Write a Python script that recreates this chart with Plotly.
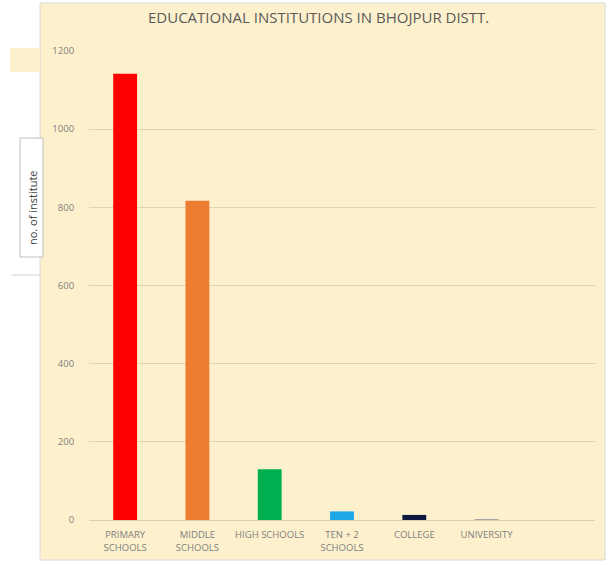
import plotly.graph_objects as go

categories = ["PRIMARY<br>SCHOOLS", "MIDDLE<br>SCHOOLS", "HIGH SCHOOLS", "TEN + 2<br>SCHOOLS", "COLLEGE", "UNIVERSITY"]
values = [1142, 817, 130, 22, 13, 2]
colors = ["#FF0000", "#ED7D31", "#00B050", "#1CA7E8", "#0B1A3E", "#A5A5A5"]
y_ticks = [0, 200, 400, 600, 800, 1000, 1200]

W, H = 615, 565
L, R, T, B = 89, 20, 51, 45
pw, ph = W - L - R, H - T - B

def px(x):
    return (x - L) / pw

def py(y):
    return 1 - (y - T) / ph

cream = "#FDF1CD"
font = "Open Sans"

fig = go.Figure(go.Bar(x=categories, y=values, marker=dict(color=colors, line=dict(width=0)), width=0.33))

fig.update_layout(
    width=W, height=H,
    margin=dict(l=L, r=R, t=T, b=B, autoexpand=False),
    paper_bgcolor="white",
    plot_bgcolor="rgba(0,0,0,0)",
    showlegend=False,
    font=dict(family=font, color="#7F7F7F", size=9),
    xaxis=dict(range=[-0.5, 6.5], showgrid=False, showline=True, linecolor="#D9CFB4",
               tickfont=dict(size=9.5, color="#7F7F7F"), ticks="outside", ticklen=6,
               tickcolor="rgba(0,0,0,0)", fixedrange=True, automargin=False),
    yaxis=dict(range=[0, 1200], tickvals=y_ticks, showgrid=True, gridcolor="#DCD3B8",
               zeroline=False, showline=False, tickfont=dict(size=9.5, color="#7F7F7F"),
               ticks="outside", ticklen=12, tickcolor="rgba(0,0,0,0)", automargin=False,
               fixedrange=True),
    shapes=[
        dict(type="rect", xref="paper", yref="paper", x0=px(40), x1=px(605), y0=py(560), y1=py(3),
             fillcolor=cream, line=dict(color="#D8D8D8", width=1), layer="below"),
        dict(type="rect", xref="paper", yref="paper", x0=px(10), x1=px(40), y0=py(72), y1=py(48),
             fillcolor=cream, line=dict(width=0), layer="below"),
        dict(type="rect", xref="paper", yref="paper", x0=px(20), x1=px(43), y0=py(257), y1=py(138),
             fillcolor="white", line=dict(color="#BFBFBF", width=1), layer="above"),
        dict(type="line", xref="paper", yref="paper", x0=px(12), x1=px(40), y0=py(275), y1=py(275),
             line=dict(color="#D0D0D0", width=1)),
    ],
    annotations=[
        dict(text="EDUCATIONAL INSTITUTIONS IN BHOJPUR DISTT.", xref="paper", yref="paper",
             x=px(318), y=py(17), xanchor="center", yanchor="middle", showarrow=False,
             font=dict(size=15, color="#595959", family=font)),
        dict(text="no. of institute", xref="paper", yref="paper", x=px(32), y=py(208),
             xanchor="center", yanchor="middle", showarrow=False, textangle=-90,
             font=dict(size=11, color="#404040", family=font)),
    ],
)

fig.write_html("out.html", config={"displayModeBar": False},
               post_script="document.body.style.margin='0';")
